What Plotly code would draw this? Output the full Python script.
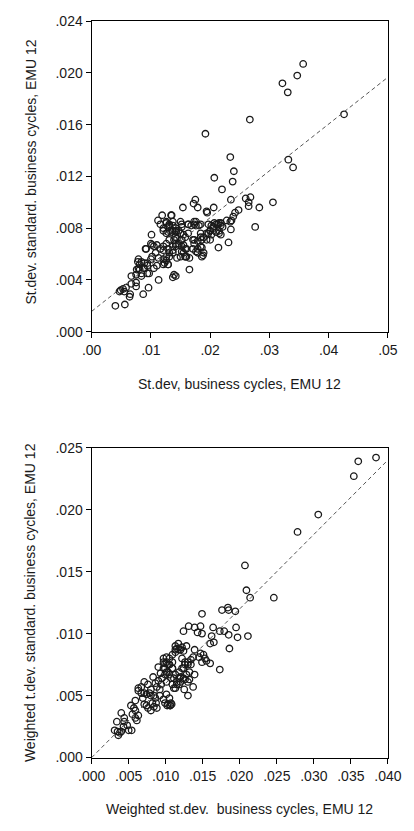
import plotly.graph_objects as go

# ---------------- Top panel data ----------------
top_x = [
    0.0192, 0.0267, 0.0322, 0.0331, 0.0347, 0.0357, 0.0426, 0.0234, 0.0207, 0.0240, 0.0238, 0.0220, 0.0332, 0.0340,
    0.0260, 0.0268, 0.0265, 0.0265, 0.0283, 0.0306, 0.0276, 0.0235, 0.0248, 0.0242, 0.0239, 0.0236, 0.0235, 0.0231, 0.0214,
    0.0175, 0.0172, 0.0179, 0.0206, 0.0194, 0.0195, 0.0154, 0.0119, 0.0135, 0.0112,
    0.0197, 0.0202, 0.0207, 0.0213, 0.0218, 0.0221, 0.0215, 0.0210, 0.0205, 0.0200, 0.0197, 0.0202, 0.0215, 0.0218, 0.0228, 0.0234,
    0.0134, 0.0152, 0.0150, 0.0163, 0.0168, 0.0173, 0.0176, 0.0181, 0.0184, 0.0189, 0.0194, 0.0200, 0.0186, 0.0179, 0.0173,
    0.0171, 0.0176, 0.0179, 0.0186, 0.0188, 0.0165, 0.0139, 0.0142, 0.0137,
    0.0126, 0.0131, 0.0137, 0.0129, 0.0121, 0.0126, 0.0134, 0.0142, 0.0147, 0.0150, 0.0155, 0.0144, 0.0139, 0.0131, 0.0126, 0.0121,
    0.0129, 0.0137, 0.0142, 0.0147, 0.0152, 0.0158, 0.0155, 0.0150, 0.0144, 0.0158, 0.0160, 0.0137, 0.0131, 0.0126, 0.0123, 0.0129,
    0.0040, 0.0056, 0.0049, 0.0053, 0.0055, 0.0058, 0.0047, 0.0065, 0.0064, 0.0067, 0.0067, 0.0075, 0.0075, 0.0087, 0.0096, 0.0113,
    0.0084, 0.0094, 0.0097,
    0.0076, 0.0079, 0.0081, 0.0089, 0.0105, 0.0110, 0.0121, 0.0129,
    0.0101, 0.0102, 0.0091, 0.0078, 0.0084, 0.0094, 0.0100, 0.0075, 0.0084,
    0.0092, 0.0116, 0.0126, 0.0131, 0.0137, 0.0121, 0.0129, 0.0137, 0.0142,
    0.0100, 0.0105, 0.0110, 0.0116, 0.0121, 0.0108, 0.0102, 0.0113, 0.0121, 0.0126, 0.0131, 0.0137, 0.0142, 0.0147, 0.0152, 0.0158, 0.0163,
    0.0079, 0.0081, 0.0089, 0.0094, 0.0087,
    0.0155, 0.0160, 0.0152, 0.0158, 0.0165, 0.0171, 0.0173, 0.0179, 0.0184, 0.0189, 0.0186, 0.0184, 0.0194, 0.0200, 0.0205, 0.0210, 0.0215, 0.0218,
    0.0152, 0.0163, 0.0173, 0.0184, 0.0176, 0.0143, 0.0141,
]
top_y = [
    0.0153, 0.0164, 0.0192, 0.0185, 0.0198, 0.0207, 0.0168, 0.0135, 0.0119, 0.0124, 0.0116, 0.0110, 0.0133, 0.0127,
    0.0103, 0.0104, 0.0100, 0.0097, 0.0096, 0.0100, 0.0081, 0.0102, 0.0094, 0.0092, 0.0089, 0.0086, 0.0079, 0.0069, 0.0065,
    0.0102, 0.0099, 0.0096, 0.0096, 0.0093, 0.0092, 0.0096, 0.0090, 0.0090, 0.0086,
    0.0083, 0.0082, 0.0084, 0.0083, 0.0084, 0.0081, 0.0078, 0.0077, 0.0080, 0.0078, 0.0076, 0.0075, 0.0076, 0.0075, 0.0086, 0.0085,
    0.0090, 0.0083, 0.0085, 0.0083, 0.0082, 0.0083, 0.0085, 0.0082, 0.0076, 0.0073, 0.0071, 0.0071, 0.0071, 0.0070, 0.0071,
    0.0064, 0.0062, 0.0061, 0.0065, 0.0059, 0.0048, 0.0044, 0.0043, 0.0042,
    0.0085, 0.0083, 0.0082, 0.0081, 0.0078, 0.0076, 0.0077, 0.0080, 0.0078, 0.0076, 0.0075, 0.0072, 0.0071, 0.0071, 0.0068, 0.0066,
    0.0064, 0.0066, 0.0068, 0.0067, 0.0066, 0.0064, 0.0061, 0.0058, 0.0057, 0.0058, 0.0058, 0.0061, 0.0058, 0.0055, 0.0053, 0.0052,
    0.0020, 0.0021, 0.0032, 0.0033, 0.0031, 0.0034, 0.0031, 0.0029, 0.0027, 0.0037, 0.0043, 0.0038, 0.0035, 0.0029, 0.0034, 0.0040,
    0.0043, 0.0045, 0.0045,
    0.0048, 0.0049, 0.0048, 0.0049, 0.0049, 0.0051, 0.0052, 0.0052,
    0.0075, 0.0067, 0.0064, 0.0054, 0.0054, 0.0053, 0.0056, 0.0044, 0.0045,
    0.0064, 0.0083, 0.0084, 0.0082, 0.0085, 0.0080, 0.0077, 0.0078, 0.0077,
    0.0068, 0.0066, 0.0067, 0.0064, 0.0063, 0.0061, 0.0058, 0.0057, 0.0056, 0.0058, 0.0061, 0.0063, 0.0066, 0.0068, 0.0071, 0.0073, 0.0076,
    0.0056, 0.0052, 0.0053, 0.0051, 0.0049,
    0.0067, 0.0064, 0.0062, 0.0058, 0.0057, 0.0071, 0.0068, 0.0064, 0.0066, 0.0061, 0.0058, 0.0073, 0.0076, 0.0078, 0.0081, 0.0083, 0.0084, 0.0082,
    0.0081, 0.0083, 0.0085, 0.0083, 0.0082, 0.0078, 0.0073,
]
top_fit_intercept = 0.00157
top_fit_slope = 0.362
top_x_ticks = [0.0, 0.01, 0.02, 0.03, 0.04, 0.05]
top_x_labels = [".00", ".01", ".02", ".03", ".04", ".05"]
top_y_ticks = [0.0, 0.004, 0.008, 0.012, 0.016, 0.020, 0.024]
top_y_labels = [".000", ".004", ".008", ".012", ".016", ".020", ".024"]
top_x_title = "St.dev, business cycles, EMU 12"
top_y_title = "St.dev. standard. business cycles, EMU 12"

# ---------------- Bottom panel data ----------------
bot_x = [
    0.0384, 0.0360, 0.0354, 0.0306, 0.0278, 0.0207, 0.0209, 0.0214, 0.0246, 0.0194, 0.0176, 0.0184, 0.0185, 0.0149,
    0.0195, 0.0197, 0.0211, 0.0164, 0.0173, 0.0179, 0.0185, 0.0162, 0.0165, 0.0160, 0.0186, 0.0173,
    0.0131, 0.0139, 0.0147, 0.0143, 0.0149, 0.0124, 0.0117, 0.0122, 0.0128, 0.0124, 0.0118, 0.0113,
    0.0139, 0.0147, 0.0151, 0.0153, 0.0155, 0.0160, 0.0145, 0.0149,
    0.0101, 0.0105, 0.0097, 0.0103, 0.0099, 0.0109, 0.0122, 0.0126, 0.0130, 0.0124, 0.0134, 0.0137,
    0.0083, 0.0071, 0.0076, 0.0067, 0.0063, 0.0067, 0.0074, 0.0078, 0.0080, 0.0086, 0.0092, 0.0097, 0.0099, 0.0103, 0.0107, 0.0105, 0.0101,
    0.0053, 0.0057, 0.0059, 0.0055, 0.0059, 0.0063, 0.0061, 0.0084, 0.0088, 0.0082, 0.0087, 0.0106, 0.0108, 0.0071, 0.0076, 0.0080,
    0.0044, 0.0048, 0.0043, 0.0050, 0.0035, 0.0038, 0.0031, 0.0040, 0.0036, 0.0034, 0.0040, 0.0044, 0.0054, 0.0059,
    0.0090, 0.0097, 0.0101, 0.0099, 0.0105, 0.0109, 0.0109, 0.0113, 0.0115, 0.0120, 0.0113, 0.0105, 0.0111, 0.0115, 0.0109, 0.0113,
    0.0118, 0.0120, 0.0101, 0.0094, 0.0092,
    0.0125, 0.0130, 0.0137, 0.0132, 0.0126, 0.0118, 0.0071, 0.0074, 0.0069, 0.0063, 0.0102, 0.0106,
    0.0097, 0.0101, 0.0105, 0.0109, 0.0103, 0.0099, 0.0107, 0.0113, 0.0118, 0.0122, 0.0126, 0.0130, 0.0134, 0.0132, 0.0128, 0.0124,
    0.0120, 0.0115, 0.0111, 0.0130, 0.0139,
    0.0086, 0.0090, 0.0088, 0.0095, 0.0093, 0.0080, 0.0084,
]
bot_y = [
    0.0242, 0.0239, 0.0227, 0.0196, 0.0182, 0.0155, 0.0135, 0.0129, 0.0129, 0.0118, 0.0119, 0.0121, 0.0119, 0.0116,
    0.0105, 0.0097, 0.0098, 0.0105, 0.0102, 0.0102, 0.0099, 0.0098, 0.0093, 0.0092, 0.0088, 0.0071,
    0.0106, 0.0105, 0.0106, 0.0101, 0.0100, 0.0102, 0.0092, 0.0089, 0.0090, 0.0086, 0.0087, 0.0087,
    0.0087, 0.0084, 0.0083, 0.0080, 0.0078, 0.0076, 0.0081, 0.0077,
    0.0081, 0.0080, 0.0077, 0.0075, 0.0072, 0.0077, 0.0080, 0.0077, 0.0075, 0.0072, 0.0079, 0.0081,
    0.0065, 0.0061, 0.0059, 0.0057, 0.0054, 0.0052, 0.0051, 0.0052, 0.0050, 0.0048, 0.0050, 0.0047, 0.0044, 0.0043, 0.0044, 0.0048, 0.0051,
    0.0042, 0.0040, 0.0038, 0.0035, 0.0032, 0.0034, 0.0030, 0.0041, 0.0040, 0.0044, 0.0044, 0.0042, 0.0043, 0.0043, 0.0040, 0.0038,
    0.0029, 0.0026, 0.0025, 0.0022, 0.0021, 0.0020, 0.0022, 0.0021, 0.0018, 0.0029, 0.0036, 0.0032, 0.0022, 0.0046,
    0.0073, 0.0072, 0.0069, 0.0076, 0.0075, 0.0072, 0.0083, 0.0085, 0.0088, 0.0087, 0.0090, 0.0067, 0.0064, 0.0061, 0.0059, 0.0056,
    0.0059, 0.0065, 0.0061, 0.0059, 0.0055,
    0.0055, 0.0050, 0.0057, 0.0063, 0.0063, 0.0064, 0.0052, 0.0042, 0.0048, 0.0056, 0.0042, 0.0042,
    0.0080, 0.0077, 0.0075, 0.0072, 0.0069, 0.0067, 0.0064, 0.0067, 0.0069, 0.0072, 0.0075, 0.0077, 0.0075, 0.0069, 0.0067, 0.0064,
    0.0061, 0.0059, 0.0056, 0.0061, 0.0067,
    0.0060, 0.0062, 0.0057, 0.0064, 0.0068, 0.0055, 0.0050,
]
bot_fit_intercept = 0.0
bot_fit_slope = 0.600
bot_x_ticks = [0.0, 0.005, 0.010, 0.015, 0.020, 0.025, 0.030, 0.035, 0.040]
bot_x_labels = [".000", ".005", ".010", ".015", ".020", ".025", ".030", ".035", ".040"]
bot_y_ticks = [0.0, 0.005, 0.010, 0.015, 0.020, 0.025]
bot_y_labels = [".000", ".005", ".010", ".015", ".020", ".025"]
bot_x_title = "Weighted st.dev.  business cycles, EMU 12"
bot_y_title = "Weighted t.dev. standard. business cycles, EMU 12"

# ---------------- Figure ----------------
W, H = 414, 831
FONT = "Liberation Sans"
TXT = "#1a1a1a"
FS = 14

fig = go.Figure()

marker = dict(symbol="circle-open", size=6.5, color="#1a1a1a", line=dict(width=1.3, color="#1a1a1a"))

fig.add_trace(go.Scatter(x=top_x, y=top_y, mode="markers", marker=marker,
                         xaxis="x", yaxis="y", showlegend=False))
tx0, tx1 = top_x_ticks[0], top_x_ticks[-1]
fig.add_trace(go.Scatter(x=[tx0, tx1],
                         y=[top_fit_intercept + top_fit_slope * tx0, top_fit_intercept + top_fit_slope * tx1],
                         mode="lines", line=dict(color="#555555", width=1, dash="4px,3px"),
                         xaxis="x", yaxis="y", showlegend=False))

fig.add_trace(go.Scatter(x=bot_x, y=bot_y, mode="markers", marker=marker,
                         xaxis="x2", yaxis="y2", showlegend=False))
bx0, bx1 = bot_x_ticks[0], bot_x_ticks[-1]
fig.add_trace(go.Scatter(x=[bx0, bx1],
                         y=[bot_fit_intercept + bot_fit_slope * bx0, bot_fit_intercept + bot_fit_slope * bx1],
                         mode="lines", line=dict(color="#555555", width=1, dash="4px,3px"),
                         xaxis="x2", yaxis="y2", showlegend=False))

# pixel geometry of plot areas
L, R = 83.3, 401.0
T1, B1 = 13.5, 330.0
T2, B2 = 448.3, 764.3
xdom = [L / W, R / W]
ydom1 = [1 - B1 / H, 1 - T1 / H]
ydom2 = [1 - B2 / H, 1 - T2 / H]

axis_common = dict(showline=True, linecolor="#000000", linewidth=1.3, mirror=True,
                   ticks="outside", ticklen=5, tickwidth=1.2, tickcolor="#000000",
                   showgrid=False, zeroline=False,
                   tickfont=dict(family=FONT, size=FS, color=TXT))

fig.update_layout(
    width=W, height=H,
    margin=dict(l=0, r=0, t=0, b=0),
    paper_bgcolor="white", plot_bgcolor="white",
    font=dict(family=FONT, size=FS, color=TXT),
    xaxis=dict(domain=xdom, anchor="y", range=[tx0, tx1], tickmode="array",
               tickvals=top_x_ticks, ticktext=top_x_labels, **axis_common),
    yaxis=dict(domain=ydom1, anchor="x", range=[top_y_ticks[0], top_y_ticks[-1]], tickmode="array",
               tickvals=top_y_ticks, ticktext=top_y_labels, **axis_common),
    xaxis2=dict(domain=xdom, anchor="y2", range=[bx0, bx1], tickmode="array",
                tickvals=bot_x_ticks, ticktext=bot_x_labels, **axis_common),
    yaxis2=dict(domain=ydom2, anchor="x2", range=[bot_y_ticks[0], bot_y_ticks[-1]], tickmode="array",
                tickvals=bot_y_ticks, ticktext=bot_y_labels, **axis_common),
)

ann = dict(xref="paper", yref="paper", showarrow=False, font=dict(family=FONT, size=FS, color=TXT))
fig.add_annotation(text=top_x_title, x=(L + R) / 2 / W, y=1 - 383 / H, xanchor="center", yanchor="middle", **ann)
fig.add_annotation(text=top_y_title, x=18 / W, y=1 - 167 / H, textangle=-90, xanchor="center", yanchor="middle", **ann)
fig.add_annotation(text=bot_x_title, x=(L + R) / 2 / W, y=1 - 817 / H, xanchor="center", yanchor="middle", **ann)
fig.add_annotation(text=bot_y_title, x=18 / W, y=1 - 606 / H, textangle=-90, xanchor="center", yanchor="middle", **ann)

fig.write_html("out.html", config={"displayModeBar": False},
               post_script="document.body.style.margin='0';document.body.style.overflow='hidden';")
